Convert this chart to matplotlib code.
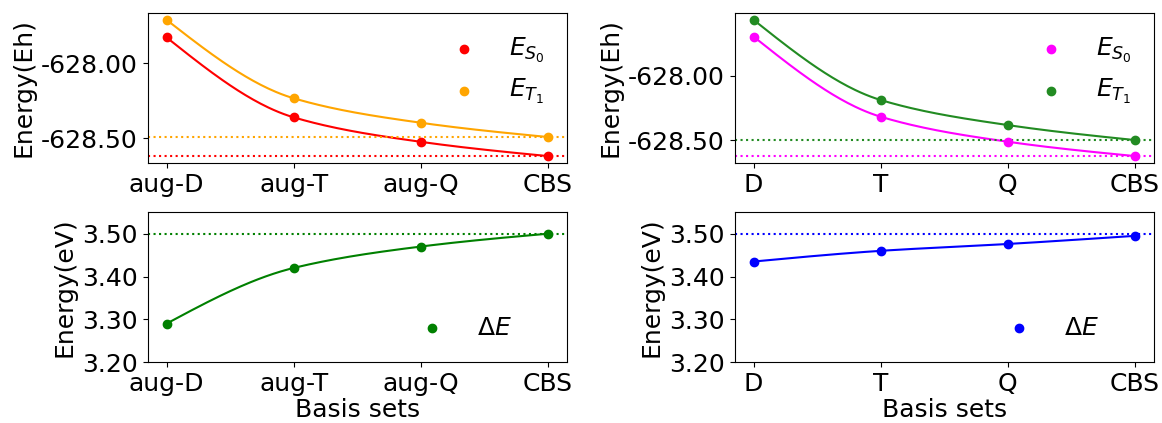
import matplotlib
matplotlib.use('Agg')
import matplotlib.pyplot as plt
from matplotlib.ticker import FormatStrFormatter
import numpy as np

plt.rcParams['axes.unicode_minus'] = False
plt.rcParams['font.size'] = 18

# basis set labels
aug_labels = ['aug-D', 'aug-T', 'aug-Q', 'CBS']
cc_labels = ['D', 'T', 'Q', 'CBS']

# energies (Eh), aug-cc-pVXZ series
aug_s0 = [-627.83, -628.362, -628.525, -628.62]
aug_t1 = [-627.713, -628.235, -628.398, -628.493]
# energies (Eh), cc-pVXZ series
cc_s0 = [-627.693, -628.318, -628.513, -628.625]
cc_t1 = [-627.5625, -628.1875, -628.383, -628.50]

# gaps (eV)
aug_gap = [3.29, 3.42, 3.47, 3.50]
cc_gap = [3.435, 3.46, 3.476, 3.495]
gap_ref = 3.50


def smooth(y, n=50):
    # monotone cubic (pchip-like) through the points, only for the line
    y = np.asarray(y, dtype=float)
    x = np.arange(len(y), dtype=float)
    d = np.diff(y)
    m = np.zeros_like(y)
    for i in range(1, len(y) - 1):
        if d[i - 1] * d[i] > 0:
            m[i] = 2.0 / (1.0 / d[i - 1] + 1.0 / d[i])
    m[0] = (3 * d[0] - m[1]) / 2
    m[-1] = (3 * d[-1] - m[-2]) / 2
    xs, ys = [], []
    for i in range(len(y) - 1):
        t = np.linspace(0, 1, n, endpoint=(i == len(y) - 2))
        h00 = 2 * t**3 - 3 * t**2 + 1
        h10 = t**3 - 2 * t**2 + t
        h01 = -2 * t**3 + 3 * t**2
        h11 = t**3 - t**2
        xs.append(x[i] + t)
        ys.append(h00 * y[i] + h10 * m[i] + h01 * y[i + 1] + h11 * m[i + 1])
    return np.concatenate(xs), np.concatenate(ys)


def energy_panel(ax, labels, s0, t1, c_s0, c_t1):
    x = np.arange(len(labels))
    ax.scatter(x, s0, color=c_s0, label=r'$E_{S_0}$', zorder=3)
    ax.scatter(x, t1, color=c_t1, label=r'$E_{T_1}$', zorder=3)
    ax.plot(*smooth(s0), color=c_s0, lw=1.5)
    ax.plot(*smooth(t1), color=c_t1, lw=1.5)
    ax.axhline(s0[-1], color=c_s0, ls=':', lw=1.5)
    ax.axhline(t1[-1], color=c_t1, ls=':', lw=1.5)
    ax.set_xticks(x)
    ax.set_xticklabels(labels)
    ax.set_yticks([-628.5, -628.0])
    ax.yaxis.set_major_formatter(FormatStrFormatter('%.2f'))
    ax.set_ylabel('Energy(Eh)')
    ax.legend(loc='upper right', frameon=False)


def gap_panel(ax, labels, gap, c):
    x = np.arange(len(labels))
    ax.scatter(x, gap, color=c, label=r'$\Delta E$', zorder=3)
    ax.plot(*smooth(gap), color=c, lw=1.5)
    ax.axhline(gap_ref, color=c, ls=':', lw=1.5)
    ax.set_xticks(x)
    ax.set_xticklabels(labels)
    ax.set_ylim(3.2, 3.55)
    ax.set_yticks([3.2, 3.3, 3.4, 3.5])
    ax.yaxis.set_major_formatter(FormatStrFormatter('%.2f'))
    ax.set_ylabel('Energy(eV)')
    ax.set_xlabel('Basis sets', labelpad=1.5)
    ax.legend(loc='lower right', bbox_to_anchor=(0.923, 0.0), frameon=False)


fig, axs = plt.subplots(2, 2, figsize=(11.62, 4.23), dpi=100)
fig.subplots_adjust(left=0.127, right=0.993, top=0.969, bottom=0.144,
                    wspace=0.40, hspace=0.33)

energy_panel(axs[0, 0], aug_labels, aug_s0, aug_t1, 'red', 'orange')
energy_panel(axs[0, 1], cc_labels, cc_s0, cc_t1, 'magenta', 'forestgreen')
gap_panel(axs[1, 0], aug_labels, aug_gap, 'green')
gap_panel(axs[1, 1], cc_labels, cc_gap, 'blue')

fig.savefig('out.png', dpi=100)
